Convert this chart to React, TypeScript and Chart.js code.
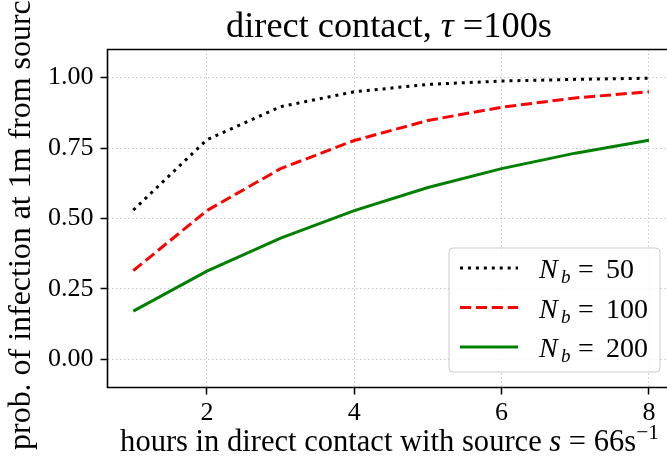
import React, { useEffect, useRef } from "react";
import { Chart, registerables } from "chart.js";

Chart.register(...registerables);

// ---- data ----
const hours = [1, 2, 3, 4, 5, 6, 7, 8];
const probNb50 = [0.53, 0.78, 0.897, 0.95, 0.976, 0.988, 0.994, 0.998];
const probNb100 = [0.315, 0.528, 0.677, 0.777, 0.848, 0.895, 0.928, 0.95];
const probNb200 = [0.171, 0.313, 0.43, 0.528, 0.61, 0.677, 0.732, 0.778];
const seriesNb = ["50", "100", "200"];
const xTickValues = [2, 4, 6, 8];
const yTickValues = [0, 0.25, 0.5, 0.75, 1];

// ---- text ----
type Seg = { t: string; it?: boolean; scale?: number; dy?: number };
const titleSegs: Seg[] = [{ t: "direct contact, " }, { t: "τ", it: true }, { t: " =100s" }];
const xLabelSegs: Seg[] = [
  { t: "hours in direct contact with source " },
  { t: "s", it: true },
  { t: " = 66s" },
  { t: "−1", scale: 0.7, dy: -0.38 },
];
const yLabelText = "prob. of infection at 1m from source";

const FONT = '"Liberation Serif", "Times New Roman", serif';

function segFont(s: Seg, size: number) {
  return `${s.it ? "italic " : ""}${size * (s.scale ?? 1)}px ${FONT}`;
}
function measureSegs(ctx: CanvasRenderingContext2D, segs: Seg[], size: number) {
  let w = 0;
  for (const s of segs) {
    ctx.font = segFont(s, size);
    w += ctx.measureText(s.t).width;
  }
  return w;
}
function drawSegs(ctx: CanvasRenderingContext2D, segs: Seg[], size: number, x: number, y: number) {
  ctx.textAlign = "left";
  ctx.textBaseline = "alphabetic";
  for (const s of segs) {
    ctx.font = segFont(s, size);
    ctx.fillText(s.t, x, y + (s.dy ?? 0) * size);
    x += ctx.measureText(s.t).width;
  }
}

const decorPlugin = {
  id: "decor",
  afterDraw(chart: any) {
    const ctx: CanvasRenderingContext2D = chart.ctx;
    const a = chart.chartArea;
    ctx.save();
    ctx.fillStyle = "#000";

    // frame (left, top, bottom spines)
    ctx.strokeStyle = "#000";
    ctx.lineWidth = 1.6;
    ctx.setLineDash([]);
    ctx.beginPath();
    ctx.moveTo(a.right + 10, a.top);
    ctx.lineTo(a.left, a.top);
    ctx.lineTo(a.left, a.bottom);
    ctx.lineTo(a.right + 10, a.bottom);
    ctx.stroke();

    // title
    const tSize = (100 * 326) / measureSegs(ctx, titleSegs, 100);
    const tW = measureSegs(ctx, titleSegs, tSize);
    drawSegs(ctx, titleSegs, tSize, 389 - tW / 2, 37);

    // x label
    const xSize = (100 * 539) / measureSegs(ctx, xLabelSegs, 100);
    const xW = measureSegs(ctx, xLabelSegs, xSize);
    drawSegs(ctx, xLabelSegs, xSize, 389.5 - xW / 2, 451);

    // y label
    ctx.font = `100px ${FONT}`;
    const ySize = (100 * 464) / ctx.measureText(yLabelText).width;
    ctx.save();
    ctx.translate(30, 218);
    ctx.rotate(-Math.PI / 2);
    ctx.font = `${ySize}px ${FONT}`;
    ctx.textAlign = "center";
    ctx.textBaseline = "alphabetic";
    ctx.fillText(yLabelText, 0, 0);
    ctx.restore();

    // legend
    const bx = 449, by = 248, bw = 211, bh = 124;
    ctx.beginPath();
    (ctx as any).roundRect(bx, by, bw, bh, 4);
    ctx.fillStyle = "rgba(255,255,255,0.85)";
    ctx.fill();
    ctx.strokeStyle = "#cccccc";
    ctx.lineWidth = 1;
    ctx.stroke();

    const rows = [268, 307.5, 347];
    chart.data.datasets.forEach((ds: any, i: number) => {
      const y = rows[i];
      ctx.beginPath();
      ctx.strokeStyle = ds.borderColor;
      ctx.lineWidth = ds.borderWidth;
      ctx.setLineDash(ds.borderDash || []);
      ctx.lineCap = "butt";
      ctx.moveTo(460, y);
      ctx.lineTo(518, y);
      ctx.stroke();
      ctx.setLineDash([]);

      ctx.fillStyle = "#000";
      ctx.textAlign = "left";
      ctx.textBaseline = "alphabetic";
      const base = y + 10;
      ctx.font = `italic 28px ${FONT}`;
      ctx.fillText("N", 539, base);
      ctx.font = `italic 19px ${FONT}`;
      ctx.fillText("b", 561, base + 5);
      ctx.font = `28px ${FONT}`;
      ctx.fillText("=", 578, base);
      ctx.fillText(seriesNb[i], 606, base);
    });

    ctx.restore();
  },
};

export default function App() {
  const ref = useRef<HTMLCanvasElement | null>(null);

  useEffect(() => {
    document.body.style.margin = "0";
    const canvas = ref.current!;
    const mkTicks = (vals: number[]) => (scale: any) => {
      scale.ticks = vals.map((v) => ({ value: v }));
    };
    const chart = new Chart(canvas, {
      type: "line",
      data: {
        labels: hours,
        datasets: [
          {
            label: "Nb = " + seriesNb[0],
            data: hours.map((h, i) => ({ x: h, y: probNb50[i] })),
            borderColor: "#000000",
            borderWidth: 3,
            borderDash: [3, 4.95],
            pointRadius: 0,
            tension: 0,
            fill: false,
          },
          {
            label: "Nb = " + seriesNb[1],
            data: hours.map((h, i) => ({ x: h, y: probNb100[i] })),
            borderColor: "#ff0000",
            borderWidth: 3,
            borderDash: [11.1, 4.8],
            pointRadius: 0,
            tension: 0,
            fill: false,
          },
          {
            label: "Nb = " + seriesNb[2],
            data: hours.map((h, i) => ({ x: h, y: probNb200[i] })),
            borderColor: "#008000",
            borderWidth: 3,
            pointRadius: 0,
            tension: 0,
            fill: false,
          },
        ],
      },
      options: {
        animation: false,
        responsive: false,
        devicePixelRatio: 1,
        layout: { padding: { top: 49.5, right: 0, left: 0, bottom: 0 } },
        plugins: {
          legend: { display: false },
          title: { display: false },
          tooltip: { enabled: false },
        },
        scales: {
          x: {
            type: "linear",
            min: 0.65,
            max: 8.245,
            afterBuildTicks: mkTicks(xTickValues),
            afterFit: (s: any) => {
              s.height = 75.5;
            },
            grid: {
              color: "#c8c8c8",
              lineWidth: 1,
              borderDash: [1.5, 2.5],
              drawTicks: true,
              tickLength: 7,
              tickColor: "#000",
              tickWidth: 1.5,
              tickBorderDash: [],
            },
            border: { display: false, dash: [1.5, 2.5] },
            ticks: {
              color: "#000",
              padding: 3,
              maxRotation: 0,
              font: { family: FONT, size: 26 },
              callback: (v: any) => String(v),
            },
          },
          y: {
            type: "linear",
            min: -0.1,
            max: 1.1,
            afterBuildTicks: mkTicks(yTickValues),
            afterFit: (s: any) => {
              s.width = 107.5;
            },
            grid: {
              color: "#c8c8c8",
              lineWidth: 1,
              borderDash: [1.5, 2.5],
              drawTicks: true,
              tickLength: 7,
              tickColor: "#000",
              tickWidth: 1.5,
              tickBorderDash: [],
            },
            border: { display: false, dash: [1.5, 2.5] },
            ticks: {
              color: "#000",
              padding: 7,
              font: { family: FONT, size: 26 },
              callback: (v: any) => Number(v).toFixed(2),
            },
          },
        },
      },
      plugins: [decorPlugin],
    } as any);
    return () => chart.destroy();
  }, []);

  return (
    <div style={{ width: 667, height: 463 }}>
      <canvas ref={ref} width={667} height={463} style={{ display: "block" }} />
    </div>
  );
}
